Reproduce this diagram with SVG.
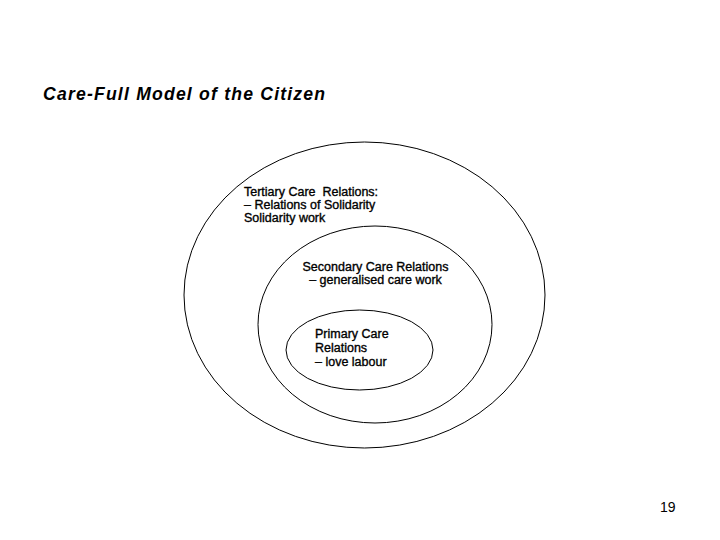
<svg xmlns="http://www.w3.org/2000/svg" width="720" height="540" viewBox="0 0 720 540">
<style>
.e{fill:none;stroke:#000;stroke-width:1}
.t{font-family:"Liberation Sans",Arial,sans-serif;font-size:12.5px;fill:#000;stroke:#000;stroke-width:0.35;white-space:pre}
.title{font-family:"Liberation Sans",Arial,sans-serif;font-size:17.6px;font-weight:bold;font-style:italic;letter-spacing:1.2px;fill:#000}
.n{font-family:"Liberation Sans",Arial,sans-serif;font-size:14px;fill:#000}
</style>
<rect width="720" height="540" fill="#fff"/>
<text class="title" x="43" y="99.5">Care-Full Model of the Citizen</text>
<g id="tertiary">
<ellipse class="e" cx="364.5" cy="295" rx="180.5" ry="153"/>
<text class="t" x="244" y="196" xml:space="preserve">Tertiary Care  Relations:</text>
<text class="t" x="244" y="209">– Relations of Solidarity</text>
<text class="t" x="244" y="222">Solidarity work</text>
</g>
<g id="secondary">
<ellipse class="e" cx="375" cy="324.5" rx="117" ry="98.5"/>
<text class="t" x="375.5" y="271" text-anchor="middle">Secondary Care Relations</text>
<text class="t" x="375.5" y="284" text-anchor="middle">– generalised care work</text>
</g>
<g id="primary">
<ellipse class="e" cx="359.5" cy="350" rx="73.5" ry="40"/>
<text class="t" x="315" y="338">Primary Care</text>
<text class="t" x="315" y="352">Relations</text>
<text class="t" x="315" y="366">– love labour</text>
</g>
<g id="connectors"/>
<text class="n" x="660" y="512">19</text>
</svg>
